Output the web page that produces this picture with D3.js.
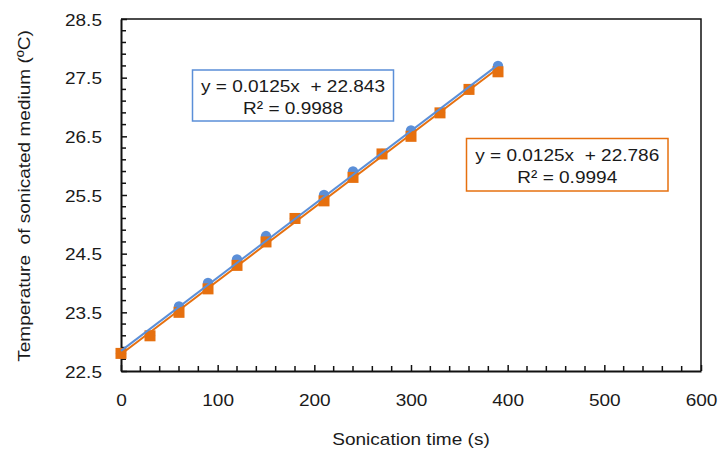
<!DOCTYPE html>
<html>
<head>
<meta charset="utf-8">
<script src="https://cdn.jsdelivr.net/npm/d3@7"></script>
<style>
  html, body { margin: 0; padding: 0; background: #fff; }
  svg text { font-family: "Liberation Sans", Arial, sans-serif; fill: #1a1a1a; white-space: pre; }
</style>
</head>
<body>
<svg id="chart" width="721" height="455"></svg>
<script>
// Sonication time (s)
const times = [0, 30, 60, 90, 120, 150, 180, 210, 240, 270, 300, 330, 360, 390];
// Temperature of the sonicated medium (ºC), two runs
const seriesBlue   = [22.8, 23.1, 23.6, 24.0, 24.4, 24.8, 25.1, 25.5, 25.9, 26.2, 26.6, 26.9, 27.3, 27.7];
const seriesOrange = [22.8, 23.1, 23.5, 23.9, 24.3, 24.7, 25.1, 25.4, 25.8, 26.2, 26.5, 26.9, 27.3, 27.6];
// Linear trendlines: slope, intercept, R²
const fitBlue   = { slope: 0.0125, intercept: 22.843, r2: "0.9988" };
const fitOrange = { slope: 0.0125, intercept: 22.786, r2: "0.9994" };
const xTicks = [0, 100, 200, 300, 400, 500, 600];
const yTicks = [22.5, 23.5, 24.5, 25.5, 26.5, 27.5, 28.5];

const BLUE = "#5B8FD8", ORANGE = "#E6700F";
const FS = 17, STRETCH = 1.12;

const svg = d3.select("#chart");
const x = d3.scaleLinear().domain([0, 600]).range([121, 701]);
const y = d3.scaleLinear().domain([22.5, 28.5]).range([371, 19]);

// plot frame (top and right)
svg.append("path")
  .attr("d", `M${x(0)},${y(28.5)}H${x(600)}V${y(22.5)}`)
  .attr("fill", "none").attr("stroke", "#111").attr("stroke-width", 1.5);

// minor ticks (inside)
const xMinor = d3.range(20, 600, 20).filter(v => v % 100 !== 0);
const yMinor = d3.range(22.7, 28.45, 0.2).filter(v => Math.abs((v - 22.5) % 1) > 0.05 && Math.abs((v - 22.5) % 1) < 0.95);
svg.append("g").selectAll("line").data(xMinor).join("line")
  .attr("x1", d => x(d)).attr("x2", d => x(d))
  .attr("y1", y(22.5)).attr("y2", y(22.5) - 5)
  .attr("stroke", "#111").attr("stroke-width", 1.5);
svg.append("g").selectAll("line").data(yMinor).join("line")
  .attr("y1", d => y(d)).attr("y2", d => y(d))
  .attr("x1", x(0)).attr("x2", x(0) + 5)
  .attr("stroke", "#111").attr("stroke-width", 1.5);

// x axis
const gx = svg.append("g").attr("transform", `translate(0,${y(22.5)})`)
  .call(d3.axisBottom(x).tickValues(xTicks).tickSizeInner(-6).tickSizeOuter(0).tickPadding(0).tickFormat(d3.format("d")));
gx.select(".domain").attr("stroke", "#111").attr("stroke-width", 2);
gx.selectAll(".tick line").attr("stroke", "#111").attr("stroke-width", 1.5);
gx.selectAll(".tick text").remove();
gx.selectAll(".tick").append("text")
  .attr("transform", `translate(0,35) scale(${STRETCH},1)`)
  .attr("text-anchor", "middle").attr("font-size", FS)
  .text(d => d3.format("d")(d));

// y axis
const gy = svg.append("g").attr("transform", `translate(${x(0)},0)`)
  .call(d3.axisLeft(y).tickValues(yTicks).tickSizeInner(-6).tickSizeOuter(0).tickPadding(0));
gy.select(".domain").attr("stroke", "#111").attr("stroke-width", 2);
gy.selectAll(".tick line").attr("stroke", "#111").attr("stroke-width", 1.5);
gy.selectAll(".tick text").remove();
gy.selectAll(".tick").append("text")
  .attr("transform", `translate(-19,6) scale(${STRETCH},1)`)
  .attr("text-anchor", "end").attr("font-size", FS)
  .text(d => d3.format(".1f")(d));

// axis titles
svg.append("text")
  .attr("transform", `translate(${x(300)},445) scale(${STRETCH},1)`)
  .attr("text-anchor", "middle").attr("font-size", FS)
  .text("Sonication time (s)");
svg.append("text")
  .attr("transform", `translate(30,196) rotate(-90) scale(${STRETCH},1)`)
  .attr("text-anchor", "middle").attr("font-size", FS)
  .text("Temperature  of sonicated medium (ºC)");

// markers
const ptsBlue = times.map((t, i) => ({ t, v: seriesBlue[i] }));
const ptsOrange = times.map((t, i) => ({ t, v: seriesOrange[i] }));
svg.append("g").selectAll("circle").data(ptsBlue).join("circle")
  .attr("cx", d => x(d.t)).attr("cy", d => y(d.v)).attr("r", 5.2)
  .attr("fill", BLUE);
const sq = 11;
svg.append("g").selectAll("rect").data(ptsOrange).join("rect")
  .attr("x", d => x(d.t) - sq / 2).attr("y", d => y(d.v) - sq / 2)
  .attr("width", sq).attr("height", sq)
  .attr("fill", ORANGE);

// trendlines
function trend(fit, color) {
  const t0 = d3.min(times), t1 = d3.max(times);
  svg.append("line")
    .attr("x1", x(t0)).attr("y1", y(fit.intercept + fit.slope * t0))
    .attr("x2", x(t1)).attr("y2", y(fit.intercept + fit.slope * t1))
    .attr("stroke", color).attr("stroke-width", 2);
}
trend(fitOrange, ORANGE);
trend(fitBlue, BLUE);

// equation labels
function eqBox(fit, color, x0, y0, w, h) {
  const g = svg.append("g");
  g.append("rect").attr("x", x0).attr("y", y0).attr("width", w).attr("height", h)
    .attr("fill", "#fff").attr("stroke", color).attr("stroke-width", 1.5);
  const cx = x0 + w / 2;
  g.append("text")
    .attr("transform", `translate(${cx},${y0 + 22}) scale(${STRETCH},1)`)
    .attr("text-anchor", "middle").attr("font-size", FS)
    .text(`y = ${fit.slope}x  + ${fit.intercept}`);
  g.append("text")
    .attr("transform", `translate(${cx},${y0 + 44}) scale(${STRETCH},1)`)
    .attr("text-anchor", "middle").attr("font-size", FS)
    .text(`R² = ${fit.r2}`);
}
eqBox(fitBlue, BLUE, 192.5, 70, 201, 51);
eqBox(fitOrange, ORANGE, 466.5, 138.5, 201.5, 52.5);
</script>
</body>
</html>
